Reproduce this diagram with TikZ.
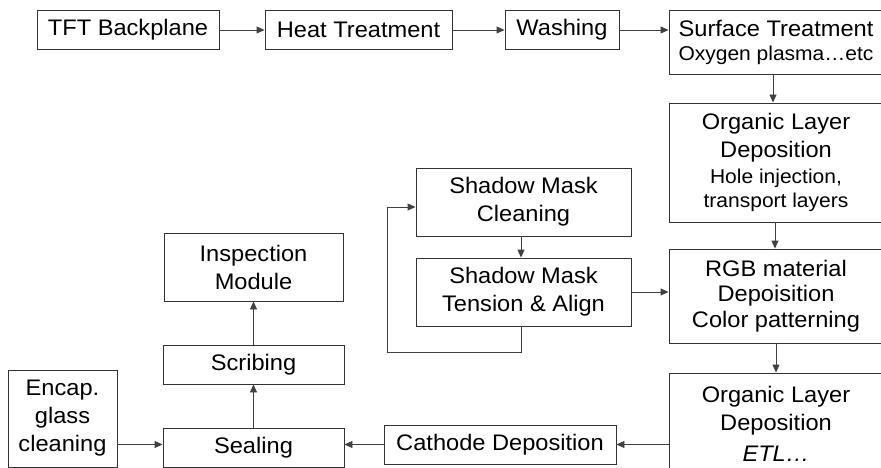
\documentclass[tikz,border=0pt]{standalone}
\usepackage{fontspec}
\setmainfont{Liberation Sans}[FakeStretch=1.05]
\usetikzlibrary{arrows.meta}
\newcommand{\bigtxt}{\fontsize{22.5}{28}\selectfont}
\newcommand{\smalltxt}{\fontsize{20}{24}\selectfont}
\begin{document}
\begin{tikzpicture}[x=1pt,y=-1pt,
  box/.style={draw=black!80,line width=0.9pt,rectangle,inner sep=0pt,align=center,
              font=\bigtxt,fill=white},
  arr/.style={draw=black!75,line width=0.9pt,-{Triangle[length=8pt,width=7pt]}}]
\useasboundingbox (0,0) rectangle (881,468);

% upper process row
\node[box,minimum width=182pt,minimum height=39pt] (tft)  at (128,30)  {TFT Backplane};
\node[box,minimum width=187pt,minimum height=39pt] (heat) at (358.5,30) {Heat Treatment};
\node[box,minimum width=114pt,minimum height=39pt] (wash) at (562,30)  {Washing};
\node[box,minimum width=214pt,minimum height=64pt] (surf) at (776,42)
  {Surface Treatment\\[-4pt]{\smalltxt Oxygen plasma\ldots etc}};

% right column
\node[box,minimum width=214pt,minimum height=119pt] (org1) at (776,162.5)
  {Organic Layer\\Deposition\\[-2pt]{\smalltxt Hole injection,}\\[-4pt]{\smalltxt transport layers}};
\node[box,minimum width=214pt,minimum height=94pt] (rgb) at (776,296)
  {RGB material\\[-2.5pt]Depoisition\\[-2.5pt]Color patterning};
\node[box,minimum width=214pt,minimum height=102pt] (org2) at (776,424)
  {Organic Layer\\[0pt]Deposition\\[3pt]\textit{ETL\ldots}};

% shadow mask loop
\node[box,minimum width=215pt,minimum height=68pt] (smc) at (523.5,202) {Shadow Mask\\Cleaning};
\node[box,minimum width=215pt,minimum height=68pt] (smt) at (523.5,292) {Shadow Mask\\Tension \& Align};

% lower process row
\node[box,minimum width=232pt,minimum height=39pt] (cath)  at (500,444.5)  {Cathode Deposition};
\node[box,minimum width=181pt,minimum height=39pt] (seal)  at (253.5,447.5) {Sealing};
\node[box,minimum width=109pt,minimum height=97pt] (encap) at (62.5,418.5)  {Encap.\\glass\\cleaning};
\node[box,minimum width=181pt,minimum height=39pt] (scrib) at (253.5,364.5) {Scribing};
\node[box,minimum width=179pt,minimum height=68pt] (insp)  at (253.5,267)   {Inspection\\Module};

% connectors
\draw[arr] (tft) -- (heat);
\draw[arr] (heat) -- (wash);
\draw[arr] (wash) -- (surf.west |- wash.east);
\draw[arr] ([xshift=-3pt]surf.south) -- ([xshift=-3pt]org1.north);
\draw[arr] ([xshift=-1pt]org1.south) -- ([xshift=-1pt]rgb.north);
\draw[arr] (rgb) -- (org2);
\draw[arr] ([xshift=-2.5pt]smc.south) -- ([xshift=-2.5pt]smt.north);
\draw[arr] (smt) -- (smt.east -| rgb.west);
\coordinate (lb) at (387,352);
\coordinate (lt) at (387,207);
\draw[arr] ([xshift=-2.5pt]smt.south) |- (lb) -- (lt) -- (lt -| smc.west);
\draw[arr] (org2.west |- cath.east) -- (cath.east);
\draw[arr] (cath.west) -- (cath.west -| seal.east);
\draw[arr] (encap.east |- cath.west) -- (seal.west |- cath.west);
\draw[arr] (seal) -- (scrib);
\draw[arr] (scrib) -- (insp);
\end{tikzpicture}
\end{document}
